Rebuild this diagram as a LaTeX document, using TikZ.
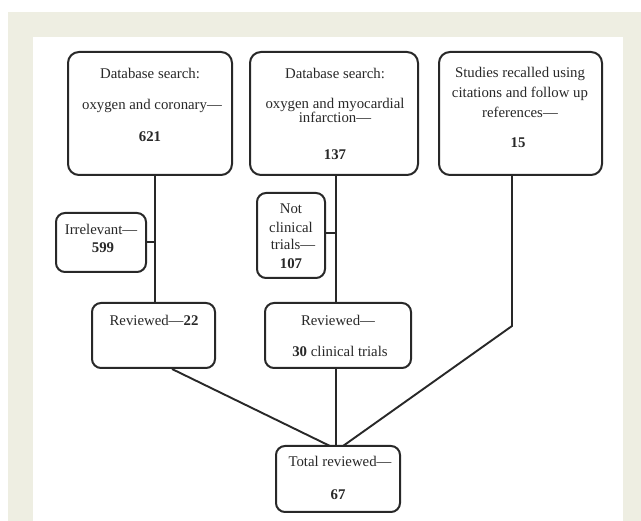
\documentclass[tikz,border=0pt]{standalone}
\usepackage{fontspec}
\setmainfont{Liberation Serif}
\definecolor{beige}{RGB}{238,238,226}
\definecolor{ink}{RGB}{40,40,40}
\begin{document}
\begin{tikzpicture}[x=1pt,y=-1pt,
  box/.style={draw=ink,line width=2pt,rounded corners=11pt,inner sep=0pt},
  txt/.style={text=ink,font=\fontsize{14.8}{16}\selectfont,inner sep=0pt,anchor=base},
  conn/.style={draw=ink,line width=1.9pt}]
\useasboundingbox (0,0) rectangle (641,521);
\fill[beige] (8,12) rectangle (641,521);
\fill[white] (33,37) rectangle (623,521);
% boxes
\node[box,minimum width=164pt,minimum height=123pt] (A) at (150,113.5) {};
\node[box,minimum width=168pt,minimum height=123pt] (B) at (334,113.5) {};
\node[box,minimum width=163pt,minimum height=123pt] (C) at (520.5,113.5) {};
\node[box,minimum width=90pt,minimum height=59pt,rounded corners=9pt] (irr) at (101,242.5) {};
\node[box,minimum width=68pt,minimum height=85pt,rounded corners=9pt] (nct) at (291,235.5) {};
\node[box,minimum width=123pt,minimum height=65pt,rounded corners=9pt] (r22) at (153.5,335.5) {};
\node[box,minimum width=146pt,minimum height=65pt,rounded corners=9pt] (r30) at (338,335.5) {};
\node[box,minimum width=124pt,minimum height=66pt,rounded corners=9pt] (tot) at (338,479) {};
% texts (base line positions)
\node[txt] (a1) at (150,79) {Database search:};
\node[txt] (a2) at (152,110) {oxygen and coronary—};
\node[txt] (a3) at (150,142) {\textbf{621}};
\node[txt] (b1) at (335,79) {Database search:};
\node[txt] (b2) at (335,109) {oxygen and myocardial};
\node[txt] (b3) at (335,123) {infarction—};
\node[txt] (b4) at (335,160) {\textbf{137}};
\node[txt] (c1) at (520,78) {Studies recalled using};
\node[txt] (c2) at (520,98) {citations and follow up};
\node[txt] (c3) at (520,118) {references—};
\node[txt] (c4) at (518,148) {\textbf{15}};
\node[txt] (i1) at (101,235) {Irrelevant—};
\node[txt] (i2) at (103,253) {\textbf{599}};
\node[txt] (n1) at (291,214) {Not};
\node[txt] (n2) at (291,233) {clinical};
\node[txt] (n3) at (293,250) {trials—};
\node[txt] (n4) at (291,269) {\textbf{107}};
\node[txt] (r1) at (154,326) {Reviewed—\textbf{22}};
\node[txt] (s1) at (338,326) {Reviewed—};
\node[txt] (s2) at (340,357) {\textbf{30} clinical trials};
\node[txt] (t1) at (340,467) {Total reviewed—};
\node[txt] (t2) at (338,500) {\textbf{67}};
% junction coordinates
\coordinate (ja) at (155,242);
\coordinate (jb) at (336,233);
\coordinate (jc) at (512,326);
\coordinate (t22) at (330,446);
\coordinate (t30) at (336,446);
\coordinate (tc) at (343,446);
% connectors
\draw[conn] (A.south -| ja) -- (r22.north -| ja);
\draw[conn] (irr.east |- ja) -- (ja);
\draw[conn] (B.south -| jb) -- (r30.north -| jb);
\draw[conn] (nct.east |- jb) -- (jb);
\draw[conn] (r30.south -| t30) -- (t30);
\draw[conn] (r22.south -| 172,0) -- (t22);
\draw[conn] (C.south -| jc) -- (jc) -- (tc);
\end{tikzpicture}
\end{document}
